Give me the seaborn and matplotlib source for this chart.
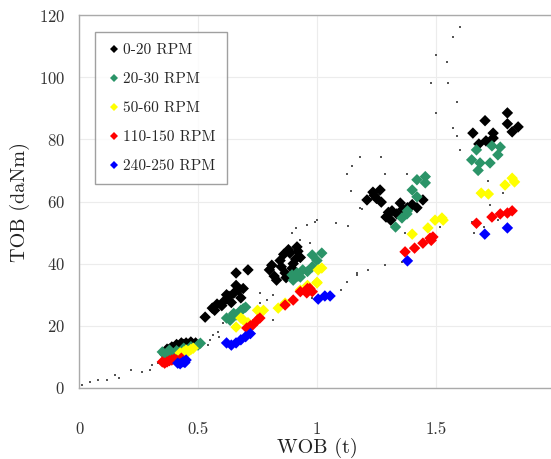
import numpy as np
import pandas as pd
import matplotlib
matplotlib.use("Agg")
import matplotlib.pyplot as plt
import seaborn as sns

# ---- data (WOB in t, TOB in daNm) ----
rpm_0_20_wob = [0.36, 0.37, 0.38, 0.39, 0.40, 0.41, 0.42, 0.43, 0.44, 0.45, 0.46, 0.47, 0.38, 0.40, 0.42, 0.44, 0.46, 0.48,
                0.37, 0.39, 0.41, 0.43, 0.45, 0.47, 0.49, 0.395, 0.415, 0.435, 0.455, 0.475,
                0.53, 0.56, 0.58, 0.61, 0.63, 0.65, 0.66, 0.66, 0.71, 0.68, 0.64, 0.60, 0.57, 0.62, 0.67, 0.69,
                0.80, 0.82, 0.845, 0.86, 0.886, 0.916, 0.90, 0.83, 0.866, 0.93, 0.88, 0.85, 0.91, 0.87, 0.81, 0.895, 0.92,
                1.21, 1.235, 1.265, 1.27, 1.29, 1.31, 1.35, 1.38, 1.42, 1.445, 1.335, 1.315, 1.25, 1.40, 1.30, 1.36, 1.24,
                1.706, 1.80, 1.80, 1.845, 1.82, 1.655, 1.74, 1.74, 1.71, 1.68]
rpm_0_20_tob = [11.0, 12.0, 12.5, 13.0, 13.0, 13.5, 13.5, 14.0, 14.0, 14.0, 14.0, 14.5, 11.5, 12.0, 12.5, 13.0, 13.5, 14.0,
                12.5, 13.2, 14.0, 14.5, 14.5, 14.8, 14.5, 12.8, 13.0, 13.4, 13.8, 14.2,
                22.8, 25.7, 27.0, 28.0, 29.5, 30.5, 33.0, 37.0, 38.0, 29.0, 27.5, 26.5, 25.0, 30.0, 31.5, 32.0,
                38.0, 36.0, 41.0, 43.0, 43.4, 45.4, 40.0, 34.7, 37.0, 42.0, 44.5, 39.0, 41.5, 35.5, 39.5, 38.5, 44.0,
                60.5, 63.0, 63.7, 59.8, 55.0, 54.0, 59.5, 58.0, 58.0, 60.5, 56.0, 57.0, 61.0, 59.0, 56.5, 57.5, 62.0,
                86.0, 88.5, 85.0, 84.0, 82.4, 82.0, 82.0, 80.4, 79.5, 78.5]

rpm_20_30_wob = [0.35, 0.38, 0.41, 0.44, 0.47, 0.51, 0.50, 0.36, 0.39, 0.42,
                 0.62, 0.65, 0.68, 0.70, 0.635, 0.66, 0.69, 0.64,
                 0.895, 0.916, 0.94, 0.98, 1.02, 0.98, 0.90, 0.93, 0.96, 1.00, 0.92,
                 1.42, 1.455, 1.455, 1.40, 1.42, 1.38, 1.357, 1.33, 1.378,
                 1.735, 1.77, 1.67, 1.76, 1.65, 1.685, 1.727, 1.677]
rpm_20_30_tob = [11.6, 12.2, 12.0, 12.8, 13.3, 14.4, 13.8, 10.8, 11.2, 11.5,
                 22.5, 24.0, 25.0, 26.0, 21.8, 23.5, 25.5, 22.8,
                 36.4, 37.0, 38.0, 39.0, 43.4, 42.8, 34.7, 35.7, 37.5, 41.0, 36.0,
                 67.0, 68.0, 66.0, 63.7, 61.5, 57.0, 54.7, 51.8, 56.0,
                 77.9, 77.5, 76.6, 75.0, 73.4, 72.4, 72.4, 70.0]

rpm_50_60_wob = [0.425, 0.45, 0.48, 0.46, 0.44, 0.47,
                 0.66, 0.69, 0.71, 0.75, 0.775, 0.68,
                 0.837, 0.866, 0.93, 0.96, 1.0, 1.02, 1.0, 1.005,
                 1.40, 1.466, 1.496, 1.525, 1.53,
                 1.69, 1.72, 1.79, 1.82, 1.83]
rpm_50_60_tob = [11.3, 12.2, 12.8, 11.8, 11.6, 12.4,
                 19.6, 21.9, 21.0, 25.0, 25.0, 22.5,
                 25.7, 27.3, 31.5, 33.0, 34.0, 38.6, 33.8, 38.0,
                 49.5, 51.5, 54.0, 54.7, 54.0,
                 62.7, 62.4, 65.3, 67.5, 66.3]

rpm_110_150_wob = [0.35, 0.37, 0.39, 0.41, 0.43, 0.36, 0.38, 0.40,
                   0.705, 0.73, 0.75, 0.76, 0.72,
                   0.866, 0.90, 0.93, 0.957, 0.97, 0.98, 0.96,
                   1.37, 1.41, 1.445, 1.475, 1.487, 1.48,
                   1.67, 1.735, 1.77, 1.80, 1.82]
rpm_110_150_tob = [8.4, 8.4, 9.0, 9.0, 9.6, 8.0, 8.8, 9.3,
                   19.3, 20.3, 21.9, 22.5, 20.0,
                   26.7, 28.3, 31.0, 30.6, 32.0, 31.0, 32.0,
                   43.8, 45.0, 46.6, 48.2, 48.6, 47.5,
                   53.0, 55.0, 56.0, 56.3, 57.0]

rpm_240_250_wob = [0.415, 0.437, 0.45, 0.425, 0.445,
                   0.62, 0.64, 0.66, 0.68, 0.70, 0.72,
                   1.005, 1.033, 1.055,
                   1.38,
                   1.705, 1.80]
rpm_240_250_tob = [8.0, 8.4, 9.0, 7.8, 8.2,
                   14.5, 13.8, 14.5, 15.5, 16.5, 17.5,
                   28.6, 29.6, 29.6,
                   40.9,
                   49.5, 51.5]

other_wob = [0.013, 0.046, 0.08, 0.118, 0.15, 0.17, 0.22, 0.265, 0.30, 0.306, 0.33,
             0.543, 0.55, 0.563, 0.584, 0.59, 0.606, 0.613, 0.664, 0.72, 0.76, 0.79, 0.815, 0.76, 0.815, 0.98, 1.0,
             0.895, 0.91, 0.957, 0.99, 0.93, 0.97, 1.0, 1.08, 1.13,
             1.10, 1.125, 1.17, 1.215, 1.285, 1.357, 1.168, 1.37, 1.517,
             1.18, 1.27, 1.147, 1.125, 1.285, 1.143, 1.38, 1.19, 1.18,
             1.60, 1.57, 1.50, 1.545, 1.48, 1.55, 1.59, 1.50, 1.57, 1.60, 1.59,
             1.72, 1.727, 1.78, 1.65, 1.66, 1.70, 1.76]
other_tob = [1.0, 2.0, 2.6, 2.6, 4.2, 3.2, 5.8, 5.2, 5.8, 7.4, 8.0,
             13.8, 15.4, 17.0, 18.0, 16.4, 21.0, 22.5, 29.0, 38.0, 27.3, 28.3, 30.0, 30.6, 22.0, 29.0, 28.3,
             50.0, 51.5, 52.4, 53.4, 47.6, 46.6, 54.0, 53.0, 52.0,
             31.5, 34.0, 36.4, 38.0, 39.6, 40.5, 37.0, 50.0, 51.8,
             74.3, 74.3, 71.4, 68.8, 69.0, 63.4, 68.8, 57.6, 58.0,
             116.0, 113.0, 107.0, 105.0, 98.0, 98.0, 92.0, 88.5, 83.6, 76.6, 81.0,
             66.6, 59.0, 62.7, 53.4, 50.0, 51.8, 54.0]

labels = ["0-20 RPM", "20-30 RPM", "50-60 RPM", "110-150 RPM", "240-250 RPM"]
colors = ["#000000", "#2b9468", "#ffff00", "#ff0000", "#0000ff"]

groups = [(rpm_0_20_wob, rpm_0_20_tob), (rpm_20_30_wob, rpm_20_30_tob),
          (rpm_50_60_wob, rpm_50_60_tob), (rpm_110_150_wob, rpm_110_150_tob),
          (rpm_240_250_wob, rpm_240_250_tob)]
frames = [pd.DataFrame({"WOB": w, "TOB": t, "RPM": lab}) for (w, t), lab in zip(groups, labels)]
df = pd.concat(frames, ignore_index=True)
df_other = pd.DataFrame({"WOB": other_wob, "TOB": other_tob})

sns.set_theme(style="white")
plt.rcParams["font.family"] = ["cmr10", "DejaVu Serif"]
plt.rcParams["axes.formatter.use_mathtext"] = True

fig = plt.figure(figsize=(5.51, 4.59), dpi=100)
ax = fig.add_axes([79 / 551, 1 - 388 / 459, 476 / 551, (388 - 15) / 459])

sns.scatterplot(data=df_other, x="WOB", y="TOB", ax=ax, color="#555555", marker="s",
                s=3, linewidth=0, legend=False, zorder=2)
sns.scatterplot(data=df, x="WOB", y="TOB", hue="RPM", hue_order=labels, palette=colors,
                marker="D", s=34, linewidth=0, ax=ax, zorder=3)

ax.set_xlim(0, 2)
ax.set_ylim(0, 120)
ax.set_xticks([0, 0.5, 1, 1.5, 2])
ax.set_xticklabels(["0", "0.5", "1", "1.5", "2"])
ax.set_yticks([0, 20, 40, 60, 80, 100, 120])
ax.grid(True, color="#ececec", linewidth=0.8)
ax.set_axisbelow(True)
for side in ["top", "bottom", "left", "right"]:
    ax.spines[side].set_color("#aaaaaa")
    ax.spines[side].set_linewidth(1.0)
ax.tick_params(axis="y", length=5, color="#aaaaaa", pad=5, labelsize=12, labelcolor="#333333")
ax.tick_params(axis="x", length=0, pad=24, labelsize=12, labelcolor="#333333")
ax.set_xlabel("WOB (t)", fontsize=14.5, labelpad=1, color="#222222")
ax.set_ylabel("TOB (daNm)", fontsize=14.5, labelpad=6, color="#222222")

leg = ax.legend(loc="upper left", bbox_to_anchor=(0.034, 0.955), borderaxespad=0, frameon=True,
                fancybox=False, fontsize=11, labelspacing=1.0, handletextpad=0.2, handlelength=0.9,
                borderpad=0.75, markerscale=0.65)
leg.get_frame().set_edgecolor("#888888")
leg.get_frame().set_linewidth(1.0)
leg.set_title(None)

fig.savefig("out.png", dpi=100)
